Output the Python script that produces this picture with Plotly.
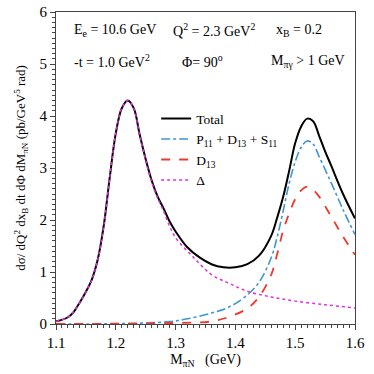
import plotly.graph_objects as go

# Curves
total_x = [1.10, 1.12, 1.13, 1.14, 1.15, 1.16, 1.17, 1.18, 1.19, 1.20, 1.21, 1.22, 1.23, 1.24, 1.25,
           1.26, 1.27, 1.28, 1.29, 1.30, 1.32, 1.34, 1.36, 1.38, 1.40, 1.42, 1.44, 1.46, 1.47,
           1.48, 1.49, 1.50, 1.51, 1.52, 1.53, 1.54, 1.55, 1.56, 1.58, 1.60]
total_y = [0.05, 0.13, 0.24, 0.42, 0.62, 0.86, 1.25, 1.90, 2.83, 3.67, 4.15, 4.30, 4.15, 3.64, 3.17,
           2.76, 2.45, 2.22, 1.97, 1.78, 1.47, 1.28, 1.15, 1.09, 1.09, 1.15, 1.32, 1.70, 2.05,
           2.45, 2.95, 3.48, 3.80, 3.95, 3.90, 3.62, 3.32, 3.05, 2.50, 2.03]

pds_x = [1.10, 1.20, 1.25, 1.29, 1.32, 1.36, 1.39, 1.42, 1.44, 1.46, 1.47, 1.48, 1.49, 1.50,
         1.51, 1.52, 1.53, 1.54, 1.56, 1.58, 1.60]
pds_y = [0.0, 0.005, 0.02, 0.045, 0.10, 0.21, 0.33, 0.56, 0.81, 1.28, 1.68, 2.18, 2.71, 3.12,
         3.40, 3.52, 3.46, 3.22, 2.72, 2.20, 1.72]

d13_x = [1.10, 1.30, 1.36, 1.39, 1.42, 1.44, 1.46, 1.47, 1.48, 1.49, 1.50, 1.51, 1.52, 1.53,
         1.54, 1.56, 1.58, 1.60]
d13_y = [0.0, 0.02, 0.05, 0.14, 0.30, 0.53, 0.95, 1.35, 1.80, 2.13, 2.40, 2.57, 2.64, 2.58,
         2.45, 2.07, 1.68, 1.33]

delta_x = [1.10, 1.12, 1.13, 1.14, 1.15, 1.16, 1.17, 1.18, 1.19, 1.20, 1.21, 1.22, 1.23, 1.24, 1.25,
           1.26, 1.27, 1.28, 1.29, 1.30, 1.33, 1.36, 1.39, 1.42, 1.46, 1.50, 1.55, 1.60]
delta_y = [0.05, 0.13, 0.24, 0.42, 0.62, 0.86, 1.25, 1.90, 2.83, 3.67, 4.15, 4.30, 4.15, 3.63, 3.15,
           2.73, 2.42, 2.17, 1.88, 1.66, 1.28, 0.95, 0.78, 0.63, 0.52, 0.44, 0.37, 0.31]

font = "Times New Roman, Liberation Serif, DejaVu Serif, serif"

fig = go.Figure()
fig.add_trace(go.Scatter(x=total_x, y=total_y, mode='lines', name='Total',
                         line=dict(color='black', width=2, shape='spline')))
fig.add_trace(go.Scatter(x=pds_x, y=pds_y, mode='lines',
                         name='P<sub>11</sub> + D<sub>13</sub> + S<sub>11</sub>',
                         line=dict(color='#3f96d2', width=1.6, dash='dashdot', shape='spline')))
fig.add_trace(go.Scatter(x=d13_x, y=d13_y, mode='lines', name='D<sub>13</sub>',
                         line=dict(color='#ee3a2c', width=1.8, dash='dash', shape='spline')))
fig.add_trace(go.Scatter(x=delta_x, y=delta_y, mode='lines', name='Δ',
                         line=dict(color='#e030d8', width=1.5, dash='dot', shape='spline')))

# Kinematics text
notes = [
    (1.127, 5.65, 'E<sub>e</sub> = 10.6 GeV'),
    (1.292, 5.65, 'Q<sup>2</sup> = 2.3 GeV<sup>2</sup>'),
    (1.465, 5.65, 'x<sub>B</sub> = 0.2'),
    (1.127, 5.05, '-t = 1.0 GeV<sup>2</sup>'),
    (1.308, 5.05, 'Φ= 90<sup>o</sup>'),
    (1.457, 5.05, 'M<sub>πγ</sub> > 1 GeV'),
]
for x, y, t in notes:
    fig.add_annotation(x=x, y=y, text=t, showarrow=False, xanchor='left', yanchor='middle',
                       font=dict(family=font, size=14, color='black'))

axis_common = dict(showline=True, linecolor='#444', linewidth=1, mirror=True, automargin=False,
                   ticks='outside', ticklen=5, tickcolor='#444', showgrid=False, zeroline=False,
                   tickfont=dict(family=font, size=15, color='black'))

fig.update_layout(
    width=374, height=374,
    margin=dict(l=56, r=19, t=12, b=50),
    plot_bgcolor='white', paper_bgcolor='white',
    font=dict(family=font, color='black'),
    xaxis=dict(range=[1.1, 1.6], dtick=0.1, tickformat='.1f',
               minor=dict(dtick=0.01, ticks='outside', ticklen=3, tickcolor='#444'),
               title=dict(text='M<sub>πN</sub>   (GeV)', font=dict(family=font, size=14), standoff=4),
               **axis_common),
    yaxis=dict(range=[0, 6], dtick=1,
               minor=dict(dtick=0.1, ticks='outside', ticklen=3, tickcolor='#444'),
               title=dict(text='dσ/ dQ<sup>2</sup> dx<sub>B</sub> dt dΦ dM<sub>πN</sub> (pb/GeV<sup>5</sup> rad)',
                          font=dict(family=font, size=13), standoff=10),
               **axis_common),
    legend=dict(x=0.335, y=0.708, xanchor='left', yanchor='top', bgcolor='rgba(0,0,0,0)',
                font=dict(family=font, size=13.5), tracegroupgap=0, itemwidth=30),
    showlegend=True,
)

# page body has a default 8px margin; drop it so the figure fills the window
fig.write_html("out.html", config={'displayModeBar': False},
               post_script="document.body.style.margin='0';")
